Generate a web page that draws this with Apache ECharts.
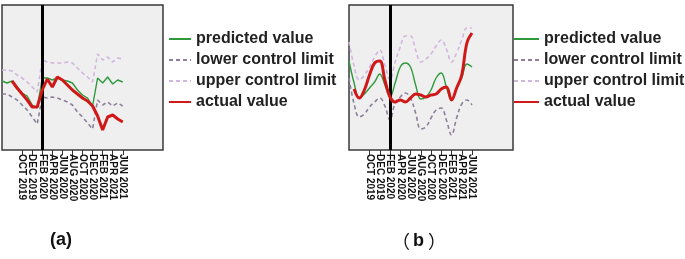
<!DOCTYPE html>
<html><head><meta charset="utf-8">
<script src="https://cdn.jsdelivr.net/npm/echarts@6/dist/echarts.min.js"></script>
<style>html,body{margin:0;padding:0;background:#fff}#c{width:685px;height:259px}</style>
</head><body><div id="c"></div>
<script>
// Monthly categories, JUN 2019 .. FEB 2022
const months = ['JUN 2019','JUL 2019','AUG 2019','SEP 2019','OCT 2019','NOV 2019','DEC 2019','JAN 2020','FEB 2020','MAR 2020','APR 2020','MAY 2020','JUN 2020','JUL 2020','AUG 2020','SEP 2020','OCT 2020','NOV 2020','DEC 2020','JAN 2021','FEB 2021','MAR 2021','APR 2021','MAY 2021','JUN 2021','JUL 2021','AUG 2021','SEP 2021','OCT 2021','NOV 2021','DEC 2021','JAN 2022','FEB 2022'];
const tickLabels = ['OCT 2019','DEC 2019','FEB 2020','APR 2020','JUN 2020','AUG 2020','OCT 2020','DEC 2020','FEB 2021','APR 2021','JUN 2021'];
const seriesNames = ['predicted value','lower control limit','upper control limit','actual value'];

// Panel (a) (arbitrary units, no y scale in source)
const aPredicted = [69,67,69,63,57,54,45,42,72,72,70,72,70,69,67,60,55,52,44,72,67,73,66,70,68];
const aLower     = [56,56,53,50,45,40,33,26,53,52,53,52,50,48,45,38,33,27,21,50,45,48,44,47,44];
const aUpper     = [80,80,79,75,72,68,63,58,90,88,87,87,87,88,87,82,77,73,68,96,90,93,88,92,91];
const aActual    = [null,null,69,62,56,50,43,43,60,71,63,73,70,65,60,56,52,49,44,34,20,33,35,31,28];

// Panel (b)
const bPredicted = [89,67,52,56,62,68,76,65,53,67,83,87,83,65,51,53,60,72,77,63,50,62,72,86,83];
const bLower     = [72,46,33,36,43,48,52,44,30,47,53,57,52,37,21,23,32,40,42,30,15,32,46,50,45];
const bUpper     = [108,84,70,75,83,93,100,85,70,88,103,114,114,100,88,91,96,104,110,101,88,97,110,122,122];
const bActual    = [null,61,52,60,75,87,89,70,53,48,50,48,52,56,55,53,55,56,61,63,50,62,75,107,117];

const COLORS = {pred:'#2e9a3c', lower:'#8e819c', upper:'#d2b6df', actual:'#d01818'};
const showIdx = (i, v) => tickLabels.indexOf(v) >= 0;

function xAxis(gi){
  return {type:'category', gridIndex:gi, data:months, boundaryGap:false,
    axisLine:{show:false},
    axisTick:{show:true, interval:showIdx, length:5, lineStyle:{color:'#333', width:1}},
    axisLabel:{interval:showIdx, rotate:-90, fontSize:10, fontWeight:'bold', color:'#111',
      fontFamily:'Liberation Sans', margin:4},
    splitLine:{show:false}};
}
function yAxis(gi){ return {type:'value', gridIndex:gi, min:0, max:145, show:false}; }
function mk(gi, name, data, color, width, dashed, smooth, linePos){
  const s = {type:'line', name, xAxisIndex:gi, yAxisIndex:gi, data, symbol:'none', smooth,
    lineStyle:{color, width, type: dashed ? [4,3] : 'solid'}, itemStyle:{color}, z: name==='actual value'?5:3};
  if (linePos !== undefined) s.markLine = {silent:true, symbol:'none', label:{show:false},
    lineStyle:{color:'#000', width:3, type:'solid'}, data:[{xAxis:linePos}]};
  return s;
}
function legend(left, w){
  return {orient:'vertical', left, top:31, padding:0, itemWidth:w, itemHeight:14, itemGap:5,
    data:seriesNames, itemStyle:{opacity:0},
    textStyle:{fontSize:16, fontWeight:'bold', color:'#222', fontFamily:'Liberation Sans', padding:[0,0,0,0]}};
}
const chart = echarts.init(document.getElementById('c'), null, {renderer:'canvas'});
chart.setOption({
  animation:false,
  grid:[
    {left:2, top:5, width:161, height:145, show:true, backgroundColor:'#efefef', borderColor:'#3a3a3a', borderWidth:1.5},
    {left:349, top:5, width:164, height:145, show:true, backgroundColor:'#efefef', borderColor:'#3a3a3a', borderWidth:1.5}
  ],
  xAxis:[xAxis(0), xAxis(1)],
  yAxis:[yAxis(0), yAxis(1)],
  legend:[legend(168, 22), legend(513, 25)],
  series:[
    mk(0,'upper control limit',aUpper,COLORS.upper,1.6,true,false),
    mk(0,'lower control limit',aLower,COLORS.lower,1.6,true,false),
    mk(0,'predicted value',aPredicted,COLORS.pred,1.4,false,false),
    mk(0,'actual value',aActual,COLORS.actual,3,false,false,8.4),
    mk(1,'upper control limit',bUpper,COLORS.upper,1.6,true,0.4),
    mk(1,'lower control limit',bLower,COLORS.lower,1.6,true,0.4),
    mk(1,'predicted value',bPredicted,COLORS.pred,1.4,false,0.4),
    mk(1,'actual value',bActual,COLORS.actual,3,false,0.4,8)
  ],
  graphic:[
    {type:'text', left:50, top:231, style:{text:'(a)', font:'bold 18px "Liberation Sans"', fill:'#111'}},
    {type:'text', left:392, top:232, style:{text:'{p|（}{b|b}{p|）}', rich:{
      p:{fontFamily:'Noto Sans CJK SC', fontSize:18, fontWeight:'normal', fill:'#111'},
      b:{fontFamily:'Liberation Sans', fontSize:18, fontWeight:'bold', fill:'#111', padding:[0,4,0,3]}}}}
  ]
});
</script></body></html>
